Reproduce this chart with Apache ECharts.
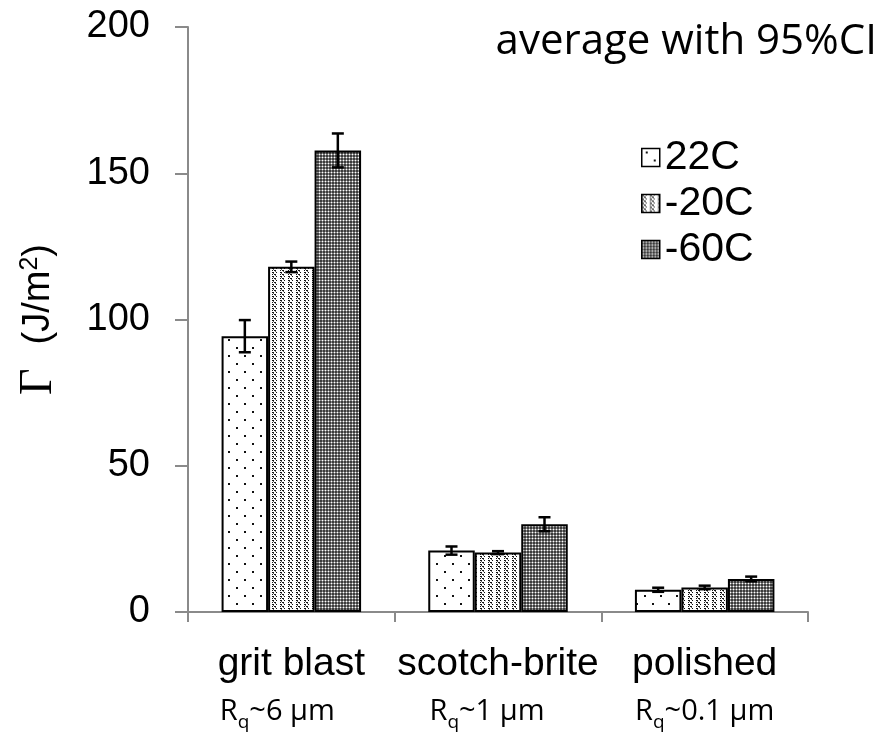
<!DOCTYPE html>
<html>
<head>
<meta charset="utf-8">
<script src="https://cdn.jsdelivr.net/npm/echarts@6/dist/echarts.min.js"></script>
<style>
  html, body { margin: 0; padding: 0; background: #fff; }
  #chart { width: 892px; height: 739px; }
</style>
</head>
<body>
<div id="chart"></div>
<script>
// Surface preparations on the category axis
const categories = ['grit blast', 'scotch-brite', 'polished'];
const roughness = ['6', '1', '0.1'];

// Fracture energy Γ (J/m²) per test temperature, with 95% CI half-widths
const seriesNames = ['22C', '-20C', '-60C'];
const values22 = [94.3, 21.0, 7.6];
const values20 = [118.0, 20.3, 8.4];
const values60 = [157.8, 30.0, 11.3];
const ci22 = [5.5, 1.4, 0.7];
const ci20 = [1.8, 0.5, 0.6];
const ci60 = [5.8, 2.4, 0.8];

const yTicks = { min: 0, max: 200, interval: 50 };

// Halftone fills drawn on small canvas tiles
function tile(w, h, draw) {
  const c = document.createElement('canvas');
  c.width = w; c.height = h;
  const g = c.getContext('2d');
  draw(g);
  return { image: c, repeat: 'repeat' };
}
const fillSparse = tile(16, 16, g => {
  g.fillStyle = '#fff'; g.fillRect(0, 0, 16, 16);
  g.fillStyle = '#111';
  g.fillRect(4, 3, 2, 2);
  g.fillRect(12, 11, 2, 2);
});
const fillStriped = tile(8, 4, g => {
  g.fillStyle = '#fff'; g.fillRect(0, 0, 8, 4);
  g.fillStyle = '#111';
  g.fillRect(0, 0, 2, 1); g.fillRect(2, 2, 2, 1);
  g.fillRect(4, 0, 1, 1); g.fillRect(0, 2, 1, 1);
  g.fillStyle = '#666';
  g.fillRect(1, 1, 1, 1); g.fillRect(3, 3, 1, 1);
});
const fillDense = tile(3, 3, g => {
  g.fillStyle = '#3c3c3c'; g.fillRect(0, 0, 3, 3);
  g.fillStyle = '#888'; g.fillRect(0, 1, 3, 1); g.fillRect(1, 0, 1, 3);
  g.fillStyle = '#fff'; g.fillRect(1, 1, 1, 1);
});

const fills = [fillSparse, fillStriped, fillDense];
const valueSets = [values22, values20, values60];
const ciSets = [ci22, ci20, ci60];

const BAR_GAP_CAT = 0.325;

function barSeries(i) {
  return {
    name: seriesNames[i],
    type: 'bar',
    data: valueSets[i],
    barGap: '0%',
    barCategoryGap: (BAR_GAP_CAT * 100) + '%',
    itemStyle: { color: fills[i], borderColor: '#000', borderWidth: 2 },
    emphasis: { disabled: true },
    z: 2
  };
}

// Error bars centred on each bar of the group
function errorSeries(i) {
  return {
    type: 'custom',
    name: seriesNames[i] + ' CI',
    data: valueSets[i].map((v, k) => [k, v - ciSets[i][k], v + ciSets[i][k]]),
    encode: { x: 0, y: [1, 2] },
    z: 5,
    silent: true,
    renderItem: function (params, api) {
      const k = api.value(0);
      const lo = api.coord([k, api.value(1)]);
      const hi = api.coord([k, api.value(2)]);
      const band = api.size([1, 0])[0];
      const bw = band * (1 - BAR_GAP_CAT) / 3;
      const x = lo[0] + (i - 1) * bw;
      const cap = 6;
      const style = { stroke: '#000', lineWidth: 2.5 };
      return {
        type: 'group',
        children: [
          { type: 'line', shape: { x1: x, y1: lo[1], x2: x, y2: hi[1] }, style },
          { type: 'line', shape: { x1: x - cap, y1: hi[1], x2: x + cap, y2: hi[1] }, style },
          { type: 'line', shape: { x1: x - cap, y1: lo[1], x2: x + cap, y2: lo[1] }, style }
        ]
      };
    }
  };
}

const chart = echarts.init(document.getElementById('chart'), null, { renderer: 'canvas' });

const axisGrey = '#8a8a8a';
const sans = 'Liberation Sans, Arial, sans-serif';
const calibriLike = 'Open Sans, sans-serif';

const rqBase = { fontFamily: calibriLike, fontSize: 29, color: '#000', lineHeight: 44 };

chart.setOption({
  backgroundColor: '#fff',
  animation: false,
  grid: { left: 188, right: 84, top: 27, bottom: 127 },
  legend: {
    data: seriesNames,
    orient: 'vertical',
    left: 636,
    top: 132,
    itemWidth: 18,
    itemHeight: 18,
    itemGap: 5,
    icon: 'rect',
    selectedMode: false,
    textStyle: { fontFamily: sans, fontSize: 41, color: '#000' },
    itemStyle: { borderColor: '#000', borderWidth: 1.5 }
  },
  graphic: [{
    type: 'text',
    right: 15,
    top: 21,
    style: {
      text: 'average with 95%CI',
      fontFamily: calibriLike,
      fontSize: 42,
      fill: '#000'
    }
  }],
  xAxis: {
    type: 'category',
    data: categories,
    axisLine: { lineStyle: { color: axisGrey, width: 2 } },
    axisTick: { show: true, length: 10, lineStyle: { color: axisGrey, width: 2 } },
    axisLabel: {
      interval: 0,
      margin: 26,
      formatter: function (v, idx) {
        return '{c|' + v + '}\n{r|R}{q|q}{t' + idx + '|~' + roughness[idx] + ' μm}';
      },
      rich: {
        c: { fontFamily: sans, fontSize: 39, color: '#000', lineHeight: 52 },
        r: rqBase,
        q: Object.assign({}, rqBase, { fontSize: 19, verticalAlign: 'bottom', padding: [0, 0, 2, 0] }),
        t0: Object.assign({}, rqBase, { padding: [0, 28, 0, 0] }),
        t1: Object.assign({}, rqBase, { padding: [0, 22, 0, 0] }),
        t2: rqBase
      }
    }
  },
  yAxis: {
    type: 'value',
    min: yTicks.min,
    max: yTicks.max,
    interval: yTicks.interval,
    name: '{g|Γ}{u|(J/m}{s|2}{u|)}',
    nameLocation: 'middle',
    nameGap: 126,
    nameRotate: 90,
    nameTextStyle: {
      padding: [0, 0, 0, 0],
      rich: {
        g: { fontFamily: 'Liberation Serif, Times New Roman, serif', fontSize: 46, color: '#000', lineHeight: 46, padding: [0, 24, 0, 0] },
        u: { fontFamily: sans, fontSize: 38, color: '#000', lineHeight: 46 },
        s: { fontFamily: sans, fontSize: 25, color: '#000', lineHeight: 46, verticalAlign: 'top', padding: [2, 0, 0, 0] }
      }
    },
    axisLine: { show: true, lineStyle: { color: axisGrey, width: 2 } },
    axisTick: { show: true, length: 13, lineStyle: { color: axisGrey, width: 2 } },
    splitLine: { show: false },
    axisLabel: { fontFamily: sans, fontSize: 38, color: '#000', margin: 38 }
  },
  series: [
    barSeries(0), barSeries(1), barSeries(2),
    errorSeries(0), errorSeries(1), errorSeries(2)
  ]
});
</script>
</body>
</html>
